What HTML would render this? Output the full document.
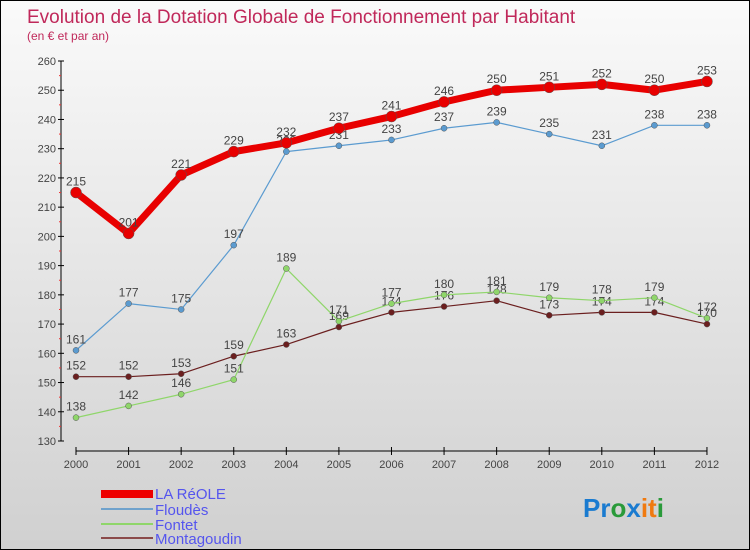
<!DOCTYPE html>
<html><head><meta charset="utf-8"><style>
body{margin:0}
#wrap{width:750px;height:550px;position:relative;box-sizing:border-box;border:1px solid #000;background:linear-gradient(#fafafa,#d0d0d0);overflow:hidden;font-family:"Liberation Sans","DejaVu Sans",sans-serif}
</style></head><body>
<div id="wrap">
<svg id="svg" width="748" height="548" style="position:absolute;left:0;top:0">
<text x="26" y="22" font-size="19" fill="#c0285a">Evolution de la Dotation Globale de Fonctionnement par Habitant</text>
<text x="26" y="39" font-size="12" fill="#c0285a">(en € et par an)</text>
<g id="axes"></g><g id="series"></g>
<g>
<rect x="100" y="489" width="52" height="8" fill="#e00"/>
<text x="154" y="498" font-size="15" fill="#5555ee">LA RéOLE</text>
<line x1="100" y1="508" x2="152" y2="508" stroke="#6fa2cc" stroke-width="2"/>
<text x="154" y="514" font-size="15" fill="#5555ee">Floudès</text>
<line x1="100" y1="523" x2="152" y2="523" stroke="#8fd66a" stroke-width="2"/>
<text x="154" y="529" font-size="15" fill="#5555ee">Fontet</text>
<line x1="100" y1="537" x2="152" y2="537" stroke="#8b4a4a" stroke-width="2"/>
<text x="154" y="543" font-size="15" fill="#5555ee">Montagoudin</text>
</g>
<text x="582" y="516" font-size="26" font-weight="bold"><tspan fill="#1a7bd0">Pr</tspan><tspan fill="#2a9a3a">o</tspan><tspan fill="#1a7bd0">x</tspan><tspan fill="#f07a10">it</tspan><tspan fill="#2a9a3a">i</tspan></text>
</svg>
</div>
<script>
const years=[2000,2001,2002,2003,2004,2005,2006,2007,2008,2009,2010,2011,2012];
const laReole=[215,201,221,229,232,237,241,246,250,251,252,250,253];
const floudes=[161,177,175,197,229,231,233,237,239,235,231,238,238];
const fontet=[138,142,146,151,189,171,177,180,181,179,178,179,172];
const montagoudin=[152,152,153,159,163,169,174,176,178,173,174,174,170];
const yTicks=[130,140,150,160,170,180,190,200,210,220,230,240,250,260];
const NS="http://www.w3.org/2000/svg";
const X=i=>75+i*52.58, Y=v=>440-(v-130)*380/130;
function mk(t,a,p){const e=document.createElementNS(NS,t);for(const k in a)e.setAttribute(k,a[k]);p.appendChild(e);return e;}
const ax=document.getElementById('axes');
const yl=mk('line',{x1:60,y1:Y(260),x2:60,y2:Y(130),stroke:'#000'},ax);


yTicks.forEach(v=>{
 mk('line',{x1:57,x2:63,y1:Y(v),y2:Y(v),stroke:'#000'},ax);
 if(v<260){mk('line',{x1:58,x2:60,y1:Y(v+5),y2:Y(v+5),stroke:'#e33'},ax);}
 const t=mk('text',{x:55,y:Y(v)+4,'text-anchor':'end','font-size':11,fill:'#444'},ax);t.textContent=v;
 
 
});
const xl=mk('line',{x1:X(0),y1:450,x2:X(12),y2:450,stroke:'#000'},ax);


years.forEach((y,i)=>{
 mk('line',{x1:X(i),x2:X(i),y1:446,y2:454,stroke:'#000'},ax);
 const t=mk('text',{x:X(i),y:467,'text-anchor':'middle','font-size':11,fill:'#444'},ax);t.textContent=y;
 
 
});
const sg=document.getElementById('series');
function draw(vals,color,w,r,name){
 const g=mk('g',{},sg);
 
 
 const p=mk('polyline',{points:vals.map((v,i)=>X(i)+','+Y(v)).join(' '),fill:'none',stroke:color,'stroke-width':w,'stroke-linejoin':'round'},g);
 
 
 vals.forEach((v,i)=>{
  const c=mk('circle',{cx:X(i),cy:Y(v),r:r,fill:color,stroke:'#555','stroke-width':0.5},g);
  
  
  const t=mk('text',{x:X(i),y:Y(v)-7,'text-anchor':'middle','font-size':12,fill:'#444'},g);t.textContent=v;
  
  
 });
}
draw(montagoudin,'#6b1f1f',1.2,3,'montagoudin');
draw(fontet,'#8fd66a',1.2,3,'fontet');
draw(floudes,'#5b9bd0',1.2,3,'floudes');
draw(laReole,'#e80000',7,5.5,'la-reole');
</script>
</body></html>
